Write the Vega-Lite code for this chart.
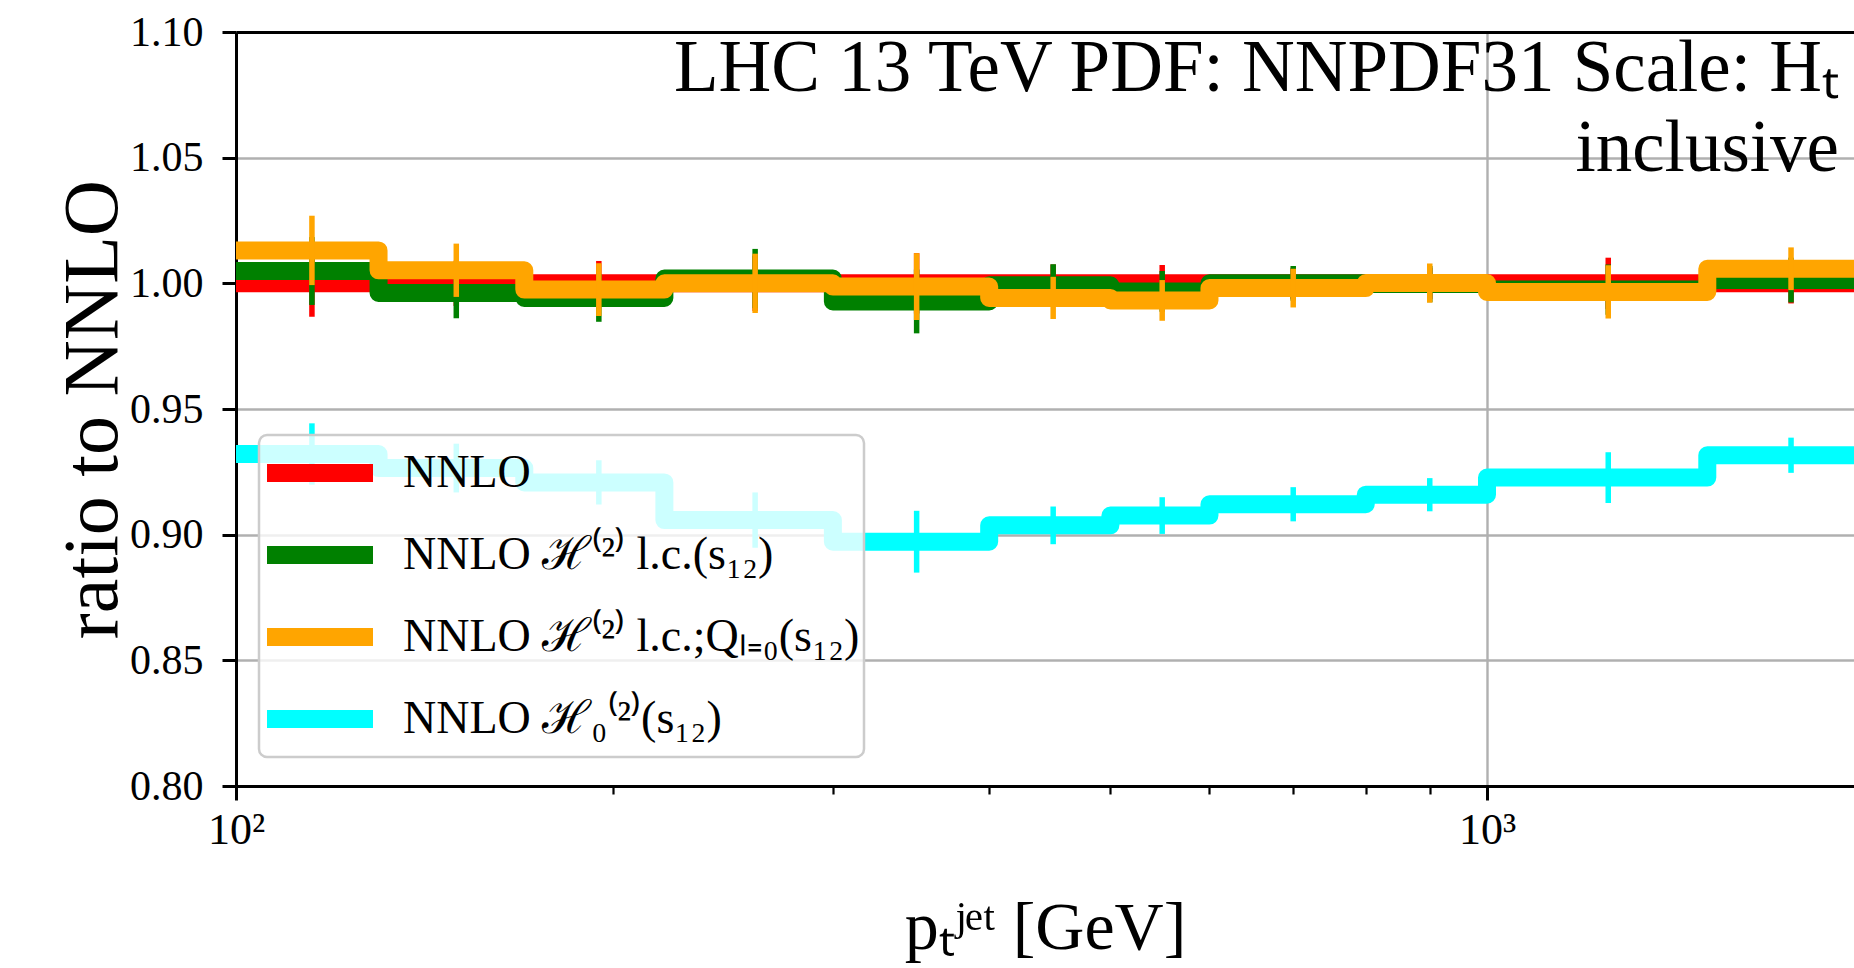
{
  "$schema": "https://vega.github.io/schema/vega-lite/v6.json",
  "width": 1618,
  "height": 754,
  "autosize": {"type": "none"},
  "padding": {"left": 236, "top": 32, "right": 0, "bottom": 182},
  "background": "white",
  "title": {
    "text": "LHC 13 TeV PDF: NNPDF31 Scale: Hₜ",
    "subtitle": "inclusive",
    "anchor": "end",
    "frame": "group",
    "orient": "top",
    "offset": -175,
    "dx": -15,
    "font": "Liberation Serif",
    "fontSize": 73,
    "fontWeight": "normal",
    "color": "black",
    "subtitleFont": "Liberation Serif",
    "subtitleFontSize": 73,
    "subtitleColor": "black",
    "subtitlePadding": 7
  },
  "datasets": {
    "steps": [
      {"k": "r", "s": "NNLO", "x": 100, "y": 1.0},
      {"k": "r", "s": "NNLO", "x": 130, "y": 1.0},
      {"k": "r", "s": "NNLO", "x": 170, "y": 1.0},
      {"k": "r", "s": "NNLO", "x": 220, "y": 1.0},
      {"k": "r", "s": "NNLO", "x": 300, "y": 1.0},
      {"k": "r", "s": "NNLO", "x": 400, "y": 1.0},
      {"k": "r", "s": "NNLO", "x": 500, "y": 1.0},
      {"k": "r", "s": "NNLO", "x": 600, "y": 1.0},
      {"k": "r", "s": "NNLO", "x": 800, "y": 1.0},
      {"k": "r", "s": "NNLO", "x": 1000, "y": 1.0},
      {"k": "r", "s": "NNLO", "x": 1500, "y": 1.0},
      {"k": "r", "s": "NNLO", "x": 2000, "y": 1.0},
      {"k": "g", "s": "NNLO ℋ⁽²⁾ l.c.(s₁₂)", "x": 100, "y": 1.0049},
      {"k": "g", "s": "NNLO ℋ⁽²⁾ l.c.(s₁₂)", "x": 130, "y": 0.9962},
      {"k": "g", "s": "NNLO ℋ⁽²⁾ l.c.(s₁₂)", "x": 170, "y": 0.9942},
      {"k": "g", "s": "NNLO ℋ⁽²⁾ l.c.(s₁₂)", "x": 220, "y": 1.0019},
      {"k": "g", "s": "NNLO ℋ⁽²⁾ l.c.(s₁₂)", "x": 300, "y": 0.9928},
      {"k": "g", "s": "NNLO ℋ⁽²⁾ l.c.(s₁₂)", "x": 400, "y": 0.9992},
      {"k": "g", "s": "NNLO ℋ⁽²⁾ l.c.(s₁₂)", "x": 500, "y": 0.9968},
      {"k": "g", "s": "NNLO ℋ⁽²⁾ l.c.(s₁₂)", "x": 600, "y": 1.0},
      {"k": "g", "s": "NNLO ℋ⁽²⁾ l.c.(s₁₂)", "x": 800, "y": 0.9997},
      {"k": "g", "s": "NNLO ℋ⁽²⁾ l.c.(s₁₂)", "x": 1000, "y": 0.9975},
      {"k": "g", "s": "NNLO ℋ⁽²⁾ l.c.(s₁₂)", "x": 1500, "y": 1.0013},
      {"k": "g", "s": "NNLO ℋ⁽²⁾ l.c.(s₁₂)", "x": 2000, "y": 1.0013},
      {"k": "o", "s": "NNLO ℋ⁽²⁾ l.c.;Qₗ₌₀(s₁₂)", "x": 100, "y": 1.0131},
      {"k": "o", "s": "NNLO ℋ⁽²⁾ l.c.;Qₗ₌₀(s₁₂)", "x": 130, "y": 1.0052},
      {"k": "o", "s": "NNLO ℋ⁽²⁾ l.c.;Qₗ₌₀(s₁₂)", "x": 170, "y": 0.9975},
      {"k": "o", "s": "NNLO ℋ⁽²⁾ l.c.;Qₗ₌₀(s₁₂)", "x": 220, "y": 1.0},
      {"k": "o", "s": "NNLO ℋ⁽²⁾ l.c.;Qₗ₌₀(s₁₂)", "x": 300, "y": 0.9987},
      {"k": "o", "s": "NNLO ℋ⁽²⁾ l.c.;Qₗ₌₀(s₁₂)", "x": 400, "y": 0.9942},
      {"k": "o", "s": "NNLO ℋ⁽²⁾ l.c.;Qₗ₌₀(s₁₂)", "x": 500, "y": 0.9932},
      {"k": "o", "s": "NNLO ℋ⁽²⁾ l.c.;Qₗ₌₀(s₁₂)", "x": 600, "y": 0.9981},
      {"k": "o", "s": "NNLO ℋ⁽²⁾ l.c.;Qₗ₌₀(s₁₂)", "x": 800, "y": 1.0001},
      {"k": "o", "s": "NNLO ℋ⁽²⁾ l.c.;Qₗ₌₀(s₁₂)", "x": 1000, "y": 0.9966},
      {"k": "o", "s": "NNLO ℋ⁽²⁾ l.c.;Qₗ₌₀(s₁₂)", "x": 1500, "y": 1.0058},
      {"k": "o", "s": "NNLO ℋ⁽²⁾ l.c.;Qₗ₌₀(s₁₂)", "x": 2000, "y": 1.0058},
      {"k": "c", "s": "NNLO ℋ₀⁽²⁾(s₁₂)", "x": 100, "y": 0.9321},
      {"k": "c", "s": "NNLO ℋ₀⁽²⁾(s₁₂)", "x": 130, "y": 0.9265},
      {"k": "c", "s": "NNLO ℋ₀⁽²⁾(s₁₂)", "x": 170, "y": 0.9208},
      {"k": "c", "s": "NNLO ℋ₀⁽²⁾(s₁₂)", "x": 220, "y": 0.9058},
      {"k": "c", "s": "NNLO ℋ₀⁽²⁾(s₁₂)", "x": 300, "y": 0.8972},
      {"k": "c", "s": "NNLO ℋ₀⁽²⁾(s₁₂)", "x": 400, "y": 0.9037},
      {"k": "c", "s": "NNLO ℋ₀⁽²⁾(s₁₂)", "x": 500, "y": 0.9076},
      {"k": "c", "s": "NNLO ℋ₀⁽²⁾(s₁₂)", "x": 600, "y": 0.9121},
      {"k": "c", "s": "NNLO ℋ₀⁽²⁾(s₁₂)", "x": 800, "y": 0.9159},
      {"k": "c", "s": "NNLO ℋ₀⁽²⁾(s₁₂)", "x": 1000, "y": 0.9227},
      {"k": "c", "s": "NNLO ℋ₀⁽²⁾(s₁₂)", "x": 1500, "y": 0.9316},
      {"k": "c", "s": "NNLO ℋ₀⁽²⁾(s₁₂)", "x": 2000, "y": 0.9316}
    ],
    "errs": [
      {"k": "r", "s": "NNLO", "xc": 115, "lo": 0.9867, "hi": 1.0133},
      {"k": "r", "s": "NNLO", "xc": 150, "lo": 0.991, "hi": 1.009},
      {"k": "r", "s": "NNLO", "xc": 195, "lo": 0.9911, "hi": 1.0089},
      {"k": "r", "s": "NNLO", "xc": 260, "lo": 0.989, "hi": 1.011},
      {"k": "r", "s": "NNLO", "xc": 350, "lo": 0.988, "hi": 1.012},
      {"k": "r", "s": "NNLO", "xc": 450, "lo": 0.9925, "hi": 1.0075},
      {"k": "r", "s": "NNLO", "xc": 550, "lo": 0.9927, "hi": 1.0073},
      {"k": "r", "s": "NNLO", "xc": 700, "lo": 0.9938, "hi": 1.0062},
      {"k": "r", "s": "NNLO", "xc": 900, "lo": 0.9938, "hi": 1.0062},
      {"k": "r", "s": "NNLO", "xc": 1250, "lo": 0.9898, "hi": 1.0102},
      {"k": "r", "s": "NNLO", "xc": 1750, "lo": 0.992, "hi": 1.008},
      {"k": "g", "s": "NNLO ℋ⁽²⁾ l.c.(s₁₂)", "xc": 115, "lo": 0.9914, "hi": 1.0184},
      {"k": "g", "s": "NNLO ℋ⁽²⁾ l.c.(s₁₂)", "xc": 150, "lo": 0.9861, "hi": 1.0063},
      {"k": "g", "s": "NNLO ℋ⁽²⁾ l.c.(s₁₂)", "xc": 195, "lo": 0.9847, "hi": 1.0037},
      {"k": "g", "s": "NNLO ℋ⁽²⁾ l.c.(s₁₂)", "xc": 260, "lo": 0.9901, "hi": 1.0137},
      {"k": "g", "s": "NNLO ℋ⁽²⁾ l.c.(s₁₂)", "xc": 350, "lo": 0.9801, "hi": 1.0055},
      {"k": "g", "s": "NNLO ℋ⁽²⁾ l.c.(s₁₂)", "xc": 450, "lo": 0.9908, "hi": 1.0076},
      {"k": "g", "s": "NNLO ℋ⁽²⁾ l.c.(s₁₂)", "xc": 550, "lo": 0.9887, "hi": 1.0049},
      {"k": "g", "s": "NNLO ℋ⁽²⁾ l.c.(s₁₂)", "xc": 700, "lo": 0.9931, "hi": 1.0069},
      {"k": "g", "s": "NNLO ℋ⁽²⁾ l.c.(s₁₂)", "xc": 900, "lo": 0.9925, "hi": 1.0069},
      {"k": "g", "s": "NNLO ℋ⁽²⁾ l.c.(s₁₂)", "xc": 1250, "lo": 0.9875, "hi": 1.0075},
      {"k": "g", "s": "NNLO ℋ⁽²⁾ l.c.(s₁₂)", "xc": 1750, "lo": 0.9924, "hi": 1.0102},
      {"k": "o", "s": "NNLO ℋ⁽²⁾ l.c.;Qₗ₌₀(s₁₂)", "xc": 115, "lo": 0.9993, "hi": 1.0269},
      {"k": "o", "s": "NNLO ℋ⁽²⁾ l.c.;Qₗ₌₀(s₁₂)", "xc": 150, "lo": 0.9946, "hi": 1.0158},
      {"k": "o", "s": "NNLO ℋ⁽²⁾ l.c.;Qₗ₌₀(s₁₂)", "xc": 195, "lo": 0.987, "hi": 1.008},
      {"k": "o", "s": "NNLO ℋ⁽²⁾ l.c.;Qₗ₌₀(s₁₂)", "xc": 260, "lo": 0.9882, "hi": 1.0118},
      {"k": "o", "s": "NNLO ℋ⁽²⁾ l.c.;Qₗ₌₀(s₁₂)", "xc": 350, "lo": 0.9854, "hi": 1.012},
      {"k": "o", "s": "NNLO ℋ⁽²⁾ l.c.;Qₗ₌₀(s₁₂)", "xc": 450, "lo": 0.9858, "hi": 1.0026},
      {"k": "o", "s": "NNLO ℋ⁽²⁾ l.c.;Qₗ₌₀(s₁₂)", "xc": 550, "lo": 0.9851, "hi": 1.0013},
      {"k": "o", "s": "NNLO ℋ⁽²⁾ l.c.;Qₗ₌₀(s₁₂)", "xc": 700, "lo": 0.9904, "hi": 1.0058},
      {"k": "o", "s": "NNLO ℋ⁽²⁾ l.c.;Qₗ₌₀(s₁₂)", "xc": 900, "lo": 0.9923, "hi": 1.0079},
      {"k": "o", "s": "NNLO ℋ⁽²⁾ l.c.;Qₗ₌₀(s₁₂)", "xc": 1250, "lo": 0.986, "hi": 1.0072},
      {"k": "o", "s": "NNLO ℋ⁽²⁾ l.c.;Qₗ₌₀(s₁₂)", "xc": 1750, "lo": 0.9973, "hi": 1.0143},
      {"k": "c", "s": "NNLO ℋ₀⁽²⁾(s₁₂)", "xc": 115, "lo": 0.9199, "hi": 0.9443},
      {"k": "c", "s": "NNLO ℋ₀⁽²⁾(s₁₂)", "xc": 150, "lo": 0.9168, "hi": 0.9362},
      {"k": "c", "s": "NNLO ℋ₀⁽²⁾(s₁₂)", "xc": 195, "lo": 0.912, "hi": 0.9296},
      {"k": "c", "s": "NNLO ℋ₀⁽²⁾(s₁₂)", "xc": 260, "lo": 0.8948, "hi": 0.9168},
      {"k": "c", "s": "NNLO ℋ₀⁽²⁾(s₁₂)", "xc": 350, "lo": 0.8849, "hi": 0.9095},
      {"k": "c", "s": "NNLO ℋ₀⁽²⁾(s₁₂)", "xc": 450, "lo": 0.8962, "hi": 0.9112},
      {"k": "c", "s": "NNLO ℋ₀⁽²⁾(s₁₂)", "xc": 550, "lo": 0.9003, "hi": 0.9149},
      {"k": "c", "s": "NNLO ℋ₀⁽²⁾(s₁₂)", "xc": 700, "lo": 0.9053, "hi": 0.9189},
      {"k": "c", "s": "NNLO ℋ₀⁽²⁾(s₁₂)", "xc": 900, "lo": 0.9093, "hi": 0.9225},
      {"k": "c", "s": "NNLO ℋ₀⁽²⁾(s₁₂)", "xc": 1250, "lo": 0.9126, "hi": 0.9328},
      {"k": "c", "s": "NNLO ℋ₀⁽²⁾(s₁₂)", "xc": 1750, "lo": 0.9246, "hi": 0.9386}
    ]
  },
  "resolve": {"axis": {"x": "independent"}},
  "layer": [
    {
      "data": {"name": "steps"},
      "transform": [{"filter": "datum.k == 'r'"}],
      "mark": {"type": "line", "interpolate": "step-after", "strokeWidth": 18, "strokeJoin": "round", "strokeCap": "square", "clip": true},
      "encoding": {
        "x": {"field": "x", "type": "quantitative", "scale": {"type": "log", "domain": [100, 1965], "nice": false},
          "axis": {
            "orient": "bottom",
            "values": [100, 200, 300, 400, 500, 600, 700, 800, 900, 1000],
            "labelExpr": "datum.value == 100 ? '10²' : (datum.value == 1000 ? '10³' : '')",
            "labelFlush": false, "labelOverlap": false,
            "labelFont": "Liberation Serif", "labelFontSize": 44, "labelColor": "black", "labelPadding": 8,
            "tickSize": {"condition": {"test": "datum.value == 100 || datum.value == 1000", "value": 14}, "value": 8},
            "tickWidth": {"condition": {"test": "datum.value == 100 || datum.value == 1000", "value": 3}, "value": 2.2},
            "tickColor": "black", "domainColor": "black", "domainWidth": 3,
            "grid": true, "gridColor": "#b0b0b0", "gridWidth": 2.4,
            "gridOpacity": {"condition": {"test": "datum.value == 1000", "value": 1}, "value": 0},
            "title": "pₜʲᵉᵗ [GeV]", "titleFont": "Liberation Serif", "titleFontSize": 68, "titleFontWeight": "normal",
            "titleColor": "black", "titleBaseline": "alphabetic", "titlePadding": 96
          }},
        "y": {"field": "y", "type": "quantitative", "scale": {"domain": [0.8, 1.1], "nice": false, "zero": false},
          "axis": {
            "values": [0.8, 0.85, 0.9, 0.95, 1.0, 1.05, 1.1], "format": ".2f",
            "labelFont": "Liberation Serif", "labelFontSize": 42, "labelColor": "black", "labelPadding": 19, "labelFlush": false,
            "tickSize": 14, "tickWidth": 3, "tickColor": "black", "domainColor": "black", "domainWidth": 3,
            "grid": true, "gridColor": "#b0b0b0", "gridWidth": 2.4,
            "title": "ratio to NNLO", "titleFont": "Liberation Serif", "titleFontSize": 78, "titleFontWeight": "normal",
            "titleColor": "black", "titleBaseline": "alphabetic", "titlePadding": 13
          }},
        "color": {"field": "s", "type": "nominal",
          "scale": {"domain": ["NNLO", "NNLO ℋ⁽²⁾ l.c.(s₁₂)", "NNLO ℋ⁽²⁾ l.c.;Qₗ₌₀(s₁₂)", "NNLO ℋ₀⁽²⁾(s₁₂)"],
                    "range": ["#ff0000", "#008000", "#ffa500", "#00ffff"]}}
      }
    },
    {
      "data": {"name": "errs"},
      "transform": [{"filter": "datum.k == 'r'"}],
      "mark": {"type": "rule", "strokeWidth": 5.5, "clip": true},
      "encoding": {
        "x": {"field": "xc", "type": "quantitative", "scale": {"type": "log", "domain": [100, 1965], "nice": false},
          "axis": {"orient": "top", "domain": true, "domainColor": "black", "domainWidth": 3, "ticks": false, "labels": false, "grid": false, "title": null}},
        "y": {"field": "lo", "type": "quantitative"},
        "y2": {"field": "hi"},
        "color": {"field": "s", "type": "nominal"}
      }
    },
    {
      "data": {"name": "steps"},
      "transform": [{"filter": "datum.k == 'g'"}],
      "mark": {"type": "line", "interpolate": "step-after", "strokeWidth": 18, "strokeJoin": "round", "strokeCap": "square", "clip": true},
      "encoding": {
        "x": {"field": "x", "type": "quantitative", "axis": null},
        "y": {"field": "y", "type": "quantitative"},
        "color": {"field": "s", "type": "nominal"}
      }
    },
    {
      "data": {"name": "errs"},
      "transform": [{"filter": "datum.k == 'g'"}],
      "mark": {"type": "rule", "strokeWidth": 5.5, "clip": true},
      "encoding": {
        "x": {"field": "xc", "type": "quantitative", "axis": null},
        "y": {"field": "lo", "type": "quantitative"},
        "y2": {"field": "hi"},
        "color": {"field": "s", "type": "nominal"}
      }
    },
    {
      "data": {"name": "steps"},
      "transform": [{"filter": "datum.k == 'o'"}],
      "mark": {"type": "line", "interpolate": "step-after", "strokeWidth": 18, "strokeJoin": "round", "strokeCap": "square", "clip": true},
      "encoding": {
        "x": {"field": "x", "type": "quantitative", "axis": null},
        "y": {"field": "y", "type": "quantitative"},
        "color": {"field": "s", "type": "nominal"}
      }
    },
    {
      "data": {"name": "errs"},
      "transform": [{"filter": "datum.k == 'o'"}],
      "mark": {"type": "rule", "strokeWidth": 5.5, "clip": true},
      "encoding": {
        "x": {"field": "xc", "type": "quantitative", "axis": null},
        "y": {"field": "lo", "type": "quantitative"},
        "y2": {"field": "hi"},
        "color": {"field": "s", "type": "nominal"}
      }
    },
    {
      "data": {"name": "steps"},
      "transform": [{"filter": "datum.k == 'c'"}],
      "mark": {"type": "line", "interpolate": "step-after", "strokeWidth": 18, "strokeJoin": "round", "strokeCap": "square", "clip": true},
      "encoding": {
        "x": {"field": "x", "type": "quantitative", "axis": null},
        "y": {"field": "y", "type": "quantitative"},
        "color": {"field": "s", "type": "nominal"}
      }
    },
    {
      "data": {"name": "errs"},
      "transform": [{"filter": "datum.k == 'c'"}],
      "mark": {"type": "rule", "strokeWidth": 5.5, "clip": true},
      "encoding": {
        "x": {"field": "xc", "type": "quantitative", "axis": null},
        "y": {"field": "lo", "type": "quantitative"},
        "y2": {"field": "hi"},
        "color": {"field": "s", "type": "nominal"}
      }
    }
  ],
  "config": {
    "view": {"stroke": null},
    "font": "Liberation Serif",
    "legend": {
      "orient": "none",
      "legendX": 23,
      "legendY": 403,
      "direction": "vertical",
      "title": null,
      "zindex": 1,
      "labelFont": "Liberation Serif",
      "labelFontSize": 46,
      "labelColor": "black",
      "labelLimit": 0,
      "labelOffset": 21,
      "symbolType": "stroke",
      "symbolSize": 11236,
      "symbolStrokeWidth": 18,
      "symbolOffset": -5,
      "clipHeight": 68,
      "rowPadding": 14,
      "padding": 4,
      "fillColor": "rgba(255,255,255,0.8)",
      "strokeColor": "#cccccc",
      "strokeWidth": 2.5,
      "cornerRadius": 8
    }
  }
}
